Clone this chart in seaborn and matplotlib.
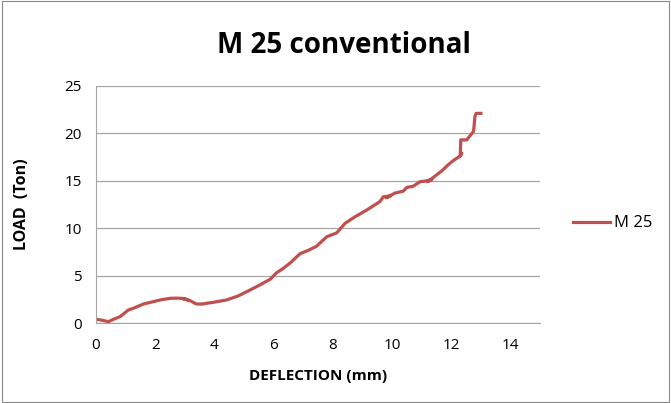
import numpy as np
import pandas as pd
import matplotlib
matplotlib.use("Agg")
import matplotlib.pyplot as plt
import seaborn as sns

# deflection (mm) and load (ton)
deflection = [0.0, 0.2, 0.42, 0.6, 0.81, 0.95, 1.09, 1.3, 1.6, 1.8, 1.94, 2.2, 2.5, 2.7,
              2.9, 3.1, 2.95, 3.18, 3.3, 3.4, 3.6, 3.74, 4.0, 4.41, 4.8, 5.09, 5.43,
              5.88, 6.1, 6.3, 6.55, 6.89, 7.2, 7.45, 7.8, 8.13, 8.41, 8.75, 9.14, 9.59,
              9.7, 9.95, 9.8, 10.1, 10.38, 10.5, 10.7, 10.95, 11.1, 11.34, 11.2, 11.5,
              11.7, 11.9, 12.1, 12.3, 12.35, 12.3, 12.32, 12.52, 12.75, 12.8, 12.84, 13.0]
load = [0.39, 0.3, 0.14, 0.4, 0.67, 1.0, 1.37, 1.6, 2.0, 2.15, 2.25, 2.45, 2.6, 2.62,
        2.6, 2.45, 2.55, 2.36, 2.15, 2.0, 2.0, 2.08, 2.2, 2.43, 2.85, 3.3, 3.84,
        4.6, 5.3, 5.7, 6.3, 7.3, 7.7, 8.1, 9.1, 9.5, 10.5, 11.2, 11.9, 12.8,
        13.3, 13.4, 13.2, 13.7, 13.9, 14.3, 14.4, 14.9, 14.95, 15.1, 14.9, 15.6,
        16.1, 16.7, 17.2, 17.6, 17.9, 17.6, 19.3, 19.3, 20.2, 21.8, 22.1, 22.1]

df = pd.DataFrame({"DEFLECTION (mm)": deflection, "LOAD  (Ton)": load, "series": "M 25"})

plt.rcParams["font.family"] = ["Open Sans", "DejaVu Sans"]

fig = plt.figure(figsize=(6.71, 4.03), dpi=100)
ax = fig.add_axes([0.143, 0.1985, 0.662, 0.5885])

sns.lineplot(data=df, x="DEFLECTION (mm)", y="LOAD  (Ton)", hue="series",
             palette=["#C0504D"], sort=False, estimator=None, linewidth=2.3, ax=ax)

ax.set_xlim(0, 15)
ax.set_ylim(0, 25)
ax.set_xticks(range(0, 15, 2))
ax.set_yticks(range(0, 26, 5))
ax.yaxis.grid(True, color="#A6A6A6", linewidth=0.9)
ax.set_axisbelow(True)
for s in ["top", "right"]:
    ax.spines[s].set_visible(False)
ax.spines["left"].set_color("#A6A6A6")
ax.spines["bottom"].set_color("#A6A6A6")
ax.tick_params(axis="both", labelsize=11, length=0, labelcolor="black")
ax.tick_params(axis="x", pad=11)
ax.tick_params(axis="y", pad=10)

ax.set_xlabel("DEFLECTION (mm)", fontsize=11, fontweight="bold", labelpad=11)
ax.set_ylabel("LOAD  (Ton)", fontsize=11.5, fontweight="bold", labelpad=25)
fig.text(0.513, 0.888, "M 25 conventional", ha="center", va="center",
         fontsize=20, fontweight="bold")

leg = ax.legend(loc="center left", bbox_to_anchor=(1.06, 0.42), frameon=False,
                fontsize=12, handlelength=2.2, handletextpad=0.25, borderaxespad=0)

fig.patches.append(plt.Rectangle((0.003, 0.003), 0.994, 0.994, transform=fig.transFigure,
                                 fill=False, edgecolor="#888888", linewidth=0.8))

fig.savefig("out.png", dpi=100)
